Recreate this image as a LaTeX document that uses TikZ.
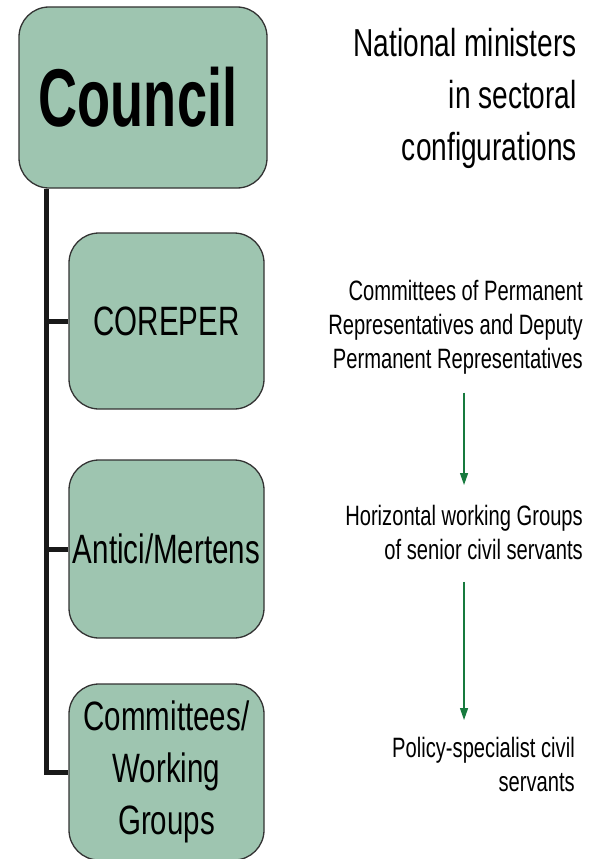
\documentclass[tikz,border=0pt]{standalone}
\usepackage{fontspec}
\setmainfont{Liberation Sans}[FakeStretch=0.72]
\newfontfamily\headfont{Liberation Sans}[FakeStretch=0.66]
\usetikzlibrary{arrows.meta, positioning}
\definecolor{boxgreen}{HTML}{9EC5B0}
\definecolor{flowgreen}{HTML}{177A3E}

\begin{document}
\begin{tikzpicture}[x=1pt, y=-1pt,
	level/.style={draw=black!80, line width=1.3pt, fill=boxgreen, rounded corners=30pt, inner sep=0pt, align=center, font=\fontsize{41}{52}\selectfont},
	trunk/.style={line width=5pt, black!90},
	note/.style={inner sep=0pt, align=right, anchor=north east},
	flow/.style={flowgreen, line width=1.4pt, -{Triangle[length=12pt, width=8pt]}}]
	\useasboundingbox (0,0) rectangle (592,859);
	
	% boxes
	\node[level, minimum width=248pt, minimum height=181pt, font=\headfont\bfseries\fontsize{82}{82}\selectfont] (council) at (143,97.5)
		{\hspace*{-10pt}Council};
	\node[level, minimum width=195pt, minimum height=176pt] (coreper) at (166.5,321) {COREPER};
	\node[level, minimum width=195pt, minimum height=178pt] (antici) at (166.5,549) {Antici/Mertens};
	\node[level, minimum width=195pt, minimum height=176pt] (groups) at (166.5,772)
		{Committees/\\Working\\Groups};
	
	% hierarchy line
	\coordinate (spine) at ([xshift=28pt]council.south west);
	\draw[trunk] (spine) |- (groups.west);
	\draw[trunk] (coreper.west) -- (coreper.west -| spine);
	\draw[trunk] (antici.west) -- (antici.west -| spine);
	
	% descriptions
	\node[note, font=\fontsize{39}{52}\selectfont] (ministers) at (577,28)
		{National ministers\\in sectoral\\configurations};
	\node[note, font=\fontsize{28}{34}\selectfont] (reps) at (583,280)
		{Committees of Permanent\\Representatives and Deputy\\Permanent Representatives};
	\node[note, font=\fontsize{28}{34}\selectfont] (horiz) at (583,505)
		{Horizontal working Groups\\of senior civil servants};
	\node[note, font=\fontsize{28}{34}\selectfont] (policy) at (575,737)
		{Policy-specialist civil\\servants};
	
	% arrows
	\draw[flow, shorten <=18pt, shorten >=20pt] (horiz.north |- reps.south) -- (horiz.north);
	\draw[flow, shorten <=22pt, shorten >=17pt] (horiz.south) -- (horiz.south |- policy.north);
\end{tikzpicture}
\end{document}
